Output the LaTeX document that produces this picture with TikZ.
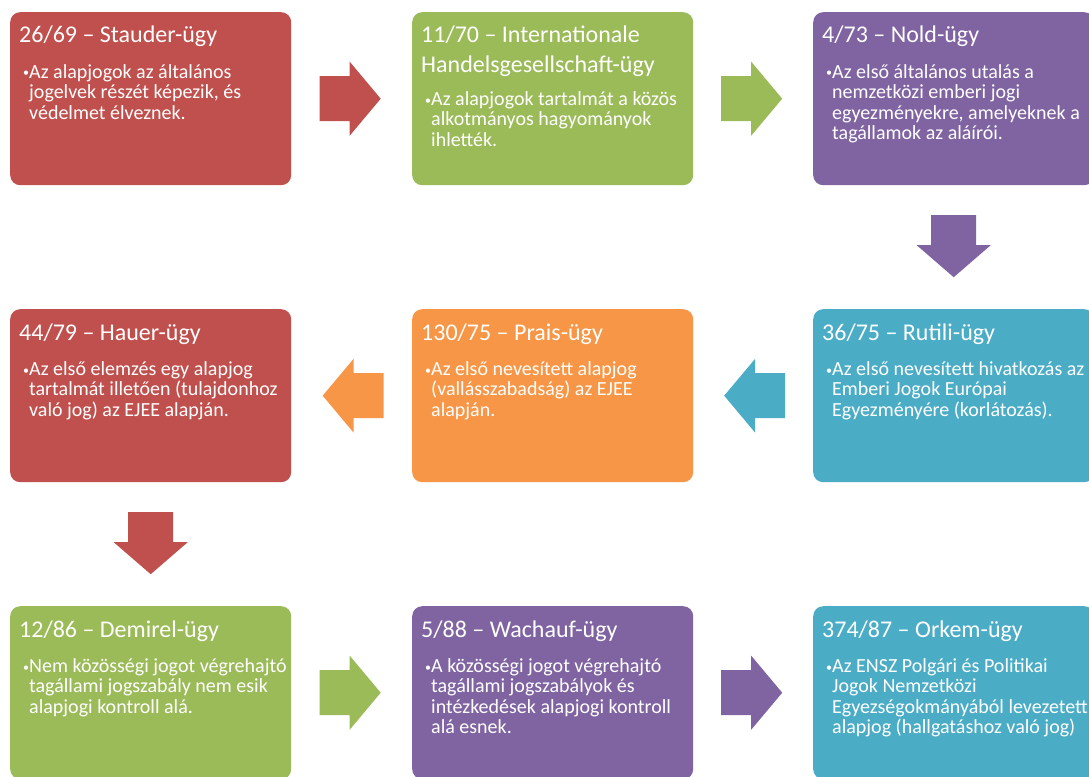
\documentclass[tikz,border=0pt]{standalone}
\usepackage{fontspec}
\setmainfont{Carlito}
\usetikzlibrary{calc}
\definecolor{cred}{HTML}{C0504D}
\definecolor{cgreen}{HTML}{9BBB59}
\definecolor{cpurple}{HTML}{8064A2}
\definecolor{caqua}{HTML}{4BACC6}
\definecolor{corange}{HTML}{F79646}
\tikzset{
  box/.style={rounded corners=10pt, minimum width=281pt, minimum height=173pt, inner sep=0pt, anchor=north west},
  ttl/.style={anchor=base west, inner sep=0pt, text=white, font=\fontsize{24}{29}\selectfont},
  bdy/.style={anchor=base west, inner sep=0pt, text=white, font=\fontsize{20}{20.5}\selectfont},
  bul/.style={anchor=base west, inner sep=0pt, text=white, font=\fontsize{12}{12}\selectfont},
}
\newcommand\toplines[1]{\begin{tabular}[t]{@{}l@{}}#1\end{tabular}}
% #1 name, #2 x, #3 y, #4 colour, #5 title, #6 body first-baseline offset, #7 body
\newcommand\casebox[7]{%
  \node[box, fill=#4] (#1) at (#2,#3) {};
  \node[ttl] (#1t) at ($(#1.north west)+(9,31)$) {\toplines{#5}};
  \node[bdy] (#1b) at ($(#1.north west)+(19,#6)$) {\toplines{#7}};
  \node[bul] (#1u) at ($(#1b.base west)+(-6,-1)$) {•};
}
\newcommand\blockR[2]{\fill[#2, shift={(#1)}] (-32,-22.5) -- (-2,-22.5) -- (-2,-37) -- (29,0) -- (-2,37) -- (-2,22.5) -- (-32,22.5) -- cycle;}
\newcommand\blockL[2]{\fill[#2, shift={(#1)}] (32,-22.5) -- (2,-22.5) -- (2,-37) -- (-29,0) -- (2,37) -- (2,22.5) -- (32,22.5) -- cycle;}
\newcommand\blockD[2]{\fill[#2, shift={(#1)}] (-22.5,-32) -- (22.5,-32) -- (22.5,-2) -- (37,-2) -- (0,30) -- (-37,-2) -- (-22.5,-2) -- cycle;}
\begin{document}
\begin{tikzpicture}[x=1pt, y=-1pt]
\useasboundingbox (0,0) rectangle (1089,776);
\clip (0,0) rectangle (1089,776);
\fill[white] (0,0) rectangle (1089,776);

\casebox{b1}{10}{12}{cred}{26/69 – Stauder-ügy}{66}{Az alapjogok az általános\\ jogelvek részét képezik, és\\ védelmet élveznek.}
\casebox{b2}{412}{12}{cgreen}{11/70 – Internationale\\ Handelsgesellschaft-ügy}{93}{Az alapjogok tartalmát a közös\\ alkotmányos hagyományok\\ ihlették.}
\casebox{b3}{813}{12}{cpurple}{4/73 – Nold-ügy}{66}{Az első általános utalás a\\ nemzetközi emberi jogi\\ egyezményekre, amelyeknek a\\ tagállamok az aláírói.}

\casebox{b4}{813}{309}{caqua}{36/75 – Rutili-ügy}{66}{Az első nevesített hivatkozás az\\ Emberi Jogok Európai\\ Egyezményére (korlátozás).}
\casebox{b5}{412}{309}{corange}{130/75 – Prais-ügy}{66}{Az első nevesített alapjog\\ (vallásszabadság) az EJEE\\ alapján.}
\casebox{b6}{10}{309}{cred}{44/79 – Hauer-ügy}{66}{Az első elemzés egy alapjog\\ tartalmát illetően (tulajdonhoz\\ való jog) az EJEE alapján.}

\casebox{b7}{10}{606}{cgreen}{12/86 – Demirel-ügy}{66}{Nem közösségi jogot végrehajtó\\ tagállami jogszabály nem esik\\ alapjogi kontroll alá.}
\casebox{b8}{412}{606}{cpurple}{5/88 – Wachauf-ügy}{66}{A közösségi jogot végrehajtó\\ tagállami jogszabályok és\\ intézkedések alapjogi kontroll\\ alá esnek.}
\casebox{b9}{813}{606}{caqua}{374/87 – Orkem-ügy}{66}{Az ENSZ Polgári és Politikai\\ Jogok Nemzetközi\\ Egyezségokmányából levezetett\\ alapjog (hallgatáshoz való jog)}

\coordinate (m12) at ($(b1.east)!0.5!(b2.west)$);
\coordinate (m23) at ($(b2.east)!0.5!(b3.west)$);
\coordinate (m34) at ($(b3.south)!0.5!(b4.north)$);
\coordinate (m45) at ($(b4.west)!0.5!(b5.east)$);
\coordinate (m56) at ($(b5.west)!0.5!(b6.east)$);
\coordinate (m67) at ($(b6.south)!0.5!(b7.north)$);
\coordinate (m78) at ($(b7.east)!0.5!(b8.west)$);
\coordinate (m89) at ($(b8.east)!0.5!(b9.west)$);

\blockR{m12}{cred}
\blockR{m23}{cgreen}
\blockD{m34}{cpurple}
\blockL{m45}{caqua}
\blockL{m56}{corange}
\blockD{m67}{cred}
\blockR{m78}{cgreen}
\blockR{m89}{cpurple}
\end{tikzpicture}
\end{document}
